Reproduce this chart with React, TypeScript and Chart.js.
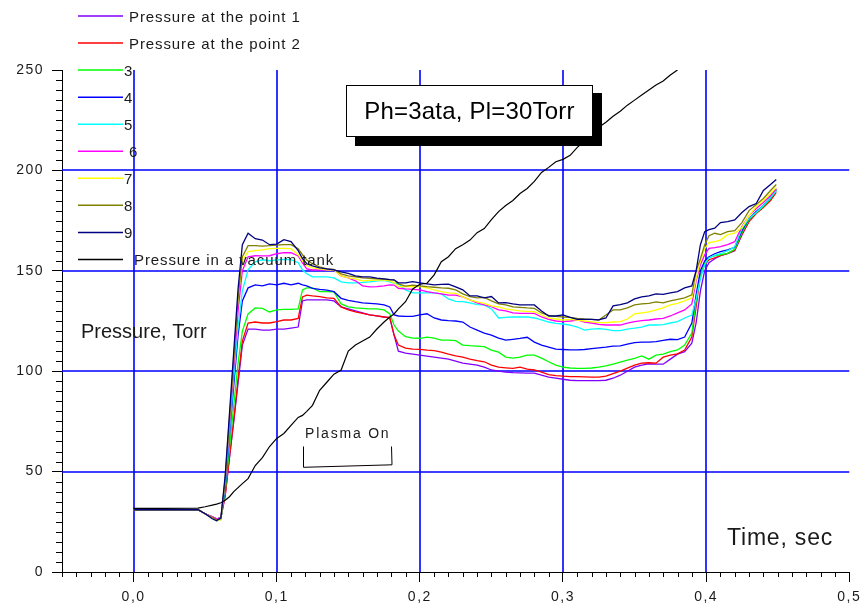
import React, { useEffect, useRef } from 'react';
import { Chart, registerables } from 'chart.js';

Chart.register(...registerables);

const FONT = '"Liberation Sans", Arial, Helvetica, sans-serif';

// time grid (s)
const TIME = [
  0, 0.02, 0.045, 0.05, 0.055, 0.058, 0.061,
  0.064, 0.067, 0.07, 0.073, 0.076, 0.08,
  0.085, 0.09, 0.095, 0.1, 0.105, 0.11, 0.115,
  0.118, 0.121, 0.125, 0.13, 0.135, 0.14, 0.145, 0.15, 0.155, 0.16, 0.165, 0.17, 0.175,
  0.179, 0.182, 0.185, 0.19, 0.195, 0.2,
  0.205, 0.21, 0.215, 0.22, 0.225, 0.23, 0.235, 0.24, 0.245, 0.25,
  0.255, 0.26, 0.265, 0.27, 0.275, 0.28, 0.285, 0.29, 0.295, 0.3,
  0.305, 0.31, 0.315, 0.32, 0.325, 0.33, 0.335, 0.34, 0.345, 0.35,
  0.355, 0.36, 0.365, 0.37, 0.375, 0.38,
  0.385, 0.39, 0.393, 0.396, 0.399, 0.402, 0.406, 0.41,
  0.415, 0.42, 0.425, 0.43, 0.435, 0.44, 0.445, 0.449,
];

const P1 = [
  31, 31, 31, 29, 27.5, 26.5, 27,
  38, 57, 75, 94, 113, 121,
  121, 120.5, 120.5, 121, 121, 121.5, 122,
  135, 135.5, 135.5, 135.5, 135.5, 135, 132, 131, 130, 129, 128, 127.5, 127,
  126.5, 118, 110, 109, 108.5, 108,
  107.5, 107, 106.5, 106, 105, 104, 103.5, 103, 102, 100.6,
  100, 99.5, 99.3, 99.2, 99, 99, 98, 97, 96.5, 96,
  95.5, 95.3, 95.3, 95.3, 95.3, 95.5, 96.5, 98, 100, 102,
  103, 103.6, 103.5, 103.5, 106, 108.5,
  109.7, 114, 124, 140, 150, 154, 156, 157.5,
  158.5, 160, 168, 175, 179, 182, 186, 190,
];
const P2 = [
  31, 31, 31, 29, 27.5, 26.5, 27,
  38, 57, 76, 96, 115, 124,
  124.5, 124, 124, 124.7, 125.5, 125.5, 126.3,
  137, 137.9, 137.5, 137.1, 136.5, 136.3, 132, 130.5, 129.5, 128.8, 128, 127.5, 127,
  126.8, 118, 113, 111.5, 111, 110.9,
  110.5, 110.2, 109.5, 108.5, 107.6, 107, 106, 105.3, 104.7, 103,
  102, 101.7, 101.4, 102, 101, 100.6, 99.5, 98.3, 97.8, 97.5,
  97.3, 97.3, 97.2, 97, 97, 97.5, 98.8, 100, 101.5, 103,
  104, 104.2, 104, 107, 108, 108.6,
  110.5, 117, 132, 148, 153, 155.5, 156.5, 157.5,
  158.7, 160.4, 168, 174.5, 178.5, 181.5, 185, 189,
];
const P3 = [
  31, 31, 31, 29, 27.5, 26.5, 27,
  40, 62, 83, 104, 120, 128.5,
  131.5, 131.3, 129.5, 130.5, 130.8, 130.8, 131,
  140.5, 141.5, 141.5, 139.6, 139.6, 139.5, 133.5, 132, 131.5, 131.3, 131, 131, 130.5,
  128.5, 123, 120, 117.2, 116.5, 116.4,
  117, 116.5, 115.5, 115.5, 115.2, 113, 112.7, 112.5, 112.2, 110.5,
  109.5, 107, 106.5, 107, 108, 108, 106.5, 104.7, 103, 102,
  101.6, 101.4, 101.4, 101.6, 102, 102.6, 103.5, 104.5, 105.5, 106.4,
  107.6, 106, 108, 108.5, 109.7, 110.6,
  113, 119, 135, 148, 154, 156.5, 157.5, 158,
  158.7, 160.7, 169, 175.5, 179, 182, 186, 190,
];
const P4 = [
  31, 31, 31, 29, 27, 26, 26.5,
  42, 68, 93, 118, 135, 141.5,
  143, 142.5, 143.5, 143, 143.8, 143, 143.8,
  143, 142.5, 141.3, 140.8, 140.4, 139.6, 136.3, 135.3, 134.6, 134, 133.8, 133.5, 133,
  132, 128, 127.5, 127.3, 127.3, 128,
  128.6, 126.5, 125.5, 125.2, 125, 124.5, 122, 120.5, 119, 118,
  116.5, 115.5, 115.9, 116.3, 116.9, 114.5, 113, 112, 111, 110.8,
  110.6, 110.6, 110.8, 111.2, 111.6, 112, 112.5, 112.6, 113.5, 114.2,
  114.5, 114.5, 114.7, 115.3, 115.9, 115.7,
  117, 124, 138, 150, 155, 157, 158.5, 159.5,
  160.4, 161.7, 170, 176, 179.5, 182.5, 186.5, 190.5,
];
const P5 = [
  31, 31, 31, 29, 27, 25.5, 26,
  44, 70, 97, 122, 140, 150.5,
  154.5, 155.5, 155, 155.4, 155.7, 155.5, 154,
  150.5, 148.5, 147, 147, 147, 146.5, 144.5, 144, 144, 144.2, 144.5, 145, 145.2,
  144.5, 143.8, 143.5, 140.5, 139, 139,
  139, 139, 138.5, 136, 134.8, 134.6, 134, 133.2, 133, 131,
  126.5, 126.8, 127, 127, 127.1, 126.5, 125.5, 124.5, 123.8, 123.5,
  123, 122, 120.5, 121, 121.2, 120.8, 120.2, 120.2, 121, 121.4,
  122, 123, 123, 123.2, 124, 124.7,
  126.5, 128, 136, 146, 153, 156.5, 157.7, 158.5,
  160, 162, 171, 176, 179, 182.5, 186.5, 190,
];
const P6 = [
  31, 31, 31, 29, 27.5, 26.5, 27,
  45, 73, 102, 130, 150, 157,
  157.5, 157.4, 157.5, 158.5, 159, 159, 157.4,
  154, 151, 150.4, 150.4, 150.4, 150.4, 147.5, 146.5, 145, 142.5, 142, 142.1, 142.5,
  143, 142.9, 141.3, 141, 140.8, 140.5,
  139.6, 139, 138.5, 137.9, 137.9, 137, 135.5, 134, 133, 132.1,
  130.5, 130, 129, 128.8, 128.8, 128.8, 127, 125.8, 125, 124.7,
  125, 125.5, 124.5, 124, 123.3, 123, 123, 123, 124, 124.7,
  125.2, 125.5, 126, 126.3, 127.5, 129,
  130.5, 133.5, 145, 153, 158, 161.2, 161.5, 162,
  163, 164.5, 172, 177.5, 181, 184, 187.5, 191,
];
const P7 = [
  31, 31, 31, 29, 27, 25.5, 26,
  47, 77, 107, 137, 155, 159.5,
  160, 160.4, 161, 161.2, 161.2, 161, 158,
  155, 152.5, 151.5, 151, 150.5, 150.4, 147.5, 146.5, 146, 145, 145.2, 145.4, 145.4,
  145, 144, 142.1, 142.1, 142.1, 142.1,
  141.5, 140.5, 139.6, 139, 138.8, 137, 135.5, 134.5, 133.8, 132.5,
  132, 131, 130.5, 130, 129.8, 129.6, 128, 126.5, 126, 125.5,
  125.8, 125.5, 125, 124.6, 124.2, 124.2, 124.5, 124.7, 126, 128.5,
  129, 129.5, 130.5, 131.5, 133, 133.8,
  135, 136.5, 146, 155, 161, 164, 164.5, 165.3,
  168, 168.7, 171.5, 177.5, 182, 185, 188.5, 191.5,
];
const P8 = [
  31, 31, 31, 29, 27, 26, 26.5,
  46, 76, 106, 136, 157, 162.5,
  162.5, 162.3, 162.5, 162.8, 163, 163, 161,
  158, 155.4, 153.5, 152, 151, 150.7, 148.5, 147.5, 147, 146.5, 146.2, 146, 145.8,
  145.6, 145.4, 143.5, 142.4, 142.9, 142.5,
  142.1, 141.8, 141.5, 141.3, 140.5, 138.5, 137.1, 136.5, 136.8, 135,
  133.5, 133, 132, 131.8, 131.5, 131.3, 129, 127.8, 127.3, 127,
  126.8, 126.3, 126, 125.8, 125.5, 128, 130.5, 130.5, 131.5, 133,
  133.5, 133.8, 134.5, 134, 135, 135.8,
  136.5, 138, 150, 156, 163, 167.5, 168.7, 168,
  169.5, 170, 174, 180, 183, 186, 190, 193,
];
const P9 = [
  31, 31, 31, 29, 26.5, 25.5, 27,
  48, 79, 110, 141, 163, 168.7,
  166, 165.3, 163, 163.3, 165.5, 164.5, 160,
  156, 153.5, 152.5, 151.5, 151, 150.5, 149.5, 148.7, 147.5, 147, 147, 146.4, 146,
  145.6, 145.5, 144, 144, 144.6, 144,
  143.5, 143, 143.2, 143.4, 142, 140.5, 137.5, 137.5, 136.5, 137.2,
  134, 134.1, 133.5, 133, 133, 133, 130, 127.5, 127.5, 128,
  126.8, 125.8, 125.8, 125.8, 125.6, 126.5, 132.5, 133.2, 134, 136,
  137, 137.5, 138.5, 138.3, 139, 139.6,
  141.5, 142.5, 150, 163, 169.5, 170.5, 171.2, 174,
  174.5, 175.3, 179, 182, 183.5, 190, 193, 195.5,
];
// vacuum tank, recorded until it leaves the plot at 250 Torr
const TANK = [
  31.7, 31.7, 31.8, 32.5, 33.3, 33.8, 34.5,
  35.7, 37.5, 40, 42, 44, 46.5,
  53, 57, 62.5, 66.5, 69, 73, 77,
  78, 80, 83, 90.5, 94.5, 98.5, 100.6, 110, 113, 115, 117, 121, 124.5,
  127, 128.5, 131, 134.6, 141, 143.3,
  143.8, 148, 154.5, 157, 161, 163, 165.3, 169, 171, 175.5,
  179.5, 182.5, 185, 188.5, 191, 194.5, 199, 201.5, 204.3, 205.5,
  207.5, 211.5, 214.5, 218, 221.5, 224, 227, 229.5, 232.5, 235,
  237.5, 240, 242.5, 244.5, 247.5, 250,
];

const SERIES_LABELS = [
  'Pressure at the point 1', 'Pressure at the point 2', '3', '4', '5', '6', '7', '8', '9',
  'Pressure in a vacuum tank',
];
const SERIES_COLORS = [
  '#8000ff', '#ff0000', '#00ff00', '#0000ff', '#00ffff', '#ff00ff', '#ffff00', '#808000', '#000080',
  '#000000',
];
const X_TICKS = [0, 0.1, 0.2, 0.3, 0.4, 0.5];
const X_TICK_LABELS = ['0,0', '0,1', '0,2', '0,3', '0,4', '0,5'];
const X_GRID = [0, 0.1, 0.2, 0.3, 0.4];
const Y_TICKS = [0, 50, 100, 150, 200, 250];
const Y_TICK_LABELS = ['0', '50', '100', '150', '200', '250'];
const Y_GRID = [50, 100, 150, 200];
const TITLE = 'Ph=3ata, Pl=30Torr';
const Y_TITLE = 'Pressure, Torr';
const X_TITLE = 'Time, sec';
const NOTE = 'Plasma On';

// layout constants (pixels)
const LEGEND_TEXT_X = [129, 129, 124, 124, 124, 129, 124, 124, 124, 134];
const TEXT_COLOR = '#1a1a1a';
const GRID_BLUE = '#0000ff';

const overlay = {
  id: 'overlay',
  beforeDraw(chart: any) {
    (chart.ctx as any).letterSpacing = '1.5px';
  },
  beforeDatasetsDraw(chart: any) {
    const ctx = chart.ctx as CanvasRenderingContext2D;
    const xs = chart.scales.x;
    const ys = chart.scales.y;
    const a = chart.chartArea;
    ctx.save();
    ctx.strokeStyle = GRID_BLUE;
    ctx.lineWidth = 1.6;
    ctx.beginPath();
    X_GRID.forEach((v) => {
      const px = Math.round(xs.getPixelForValue(v));
      ctx.moveTo(px, a.top);
      ctx.lineTo(px, a.bottom);
    });
    Y_GRID.forEach((v) => {
      const py = Math.round(ys.getPixelForValue(v));
      ctx.moveTo(a.left, py);
      ctx.lineTo(a.right, py);
    });
    ctx.stroke();
    ctx.restore();
  },
  afterDatasetsDraw(chart: any) {
    const ctx = chart.ctx as CanvasRenderingContext2D & { letterSpacing?: string };
    const xs = chart.scales.x;
    const ys = chart.scales.y;
    const area = chart.chartArea;
    ctx.save();

    // minor ticks
    ctx.strokeStyle = '#000';
    ctx.lineWidth = 1;
    ctx.beginPath();
    for (let k = -5; k <= 50; k++) {
      if (k % 10 === 0) continue;
      const px = Math.round(xs.getPixelForValue(k / 100)) + 0.5;
      ctx.moveTo(px, area.bottom);
      ctx.lineTo(px, area.bottom + 5);
    }
    for (let k = 0; k <= 250; k += 5) {
      if (k % 50 === 0) continue;
      const py = Math.round(ys.getPixelForValue(k)) + 0.5;
      ctx.moveTo(area.left - 6, py);
      ctx.lineTo(area.left, py);
    }
    ctx.stroke();

    // legend
    ctx.textAlign = 'left';
    ctx.textBaseline = 'alphabetic';
    chart.data.datasets.forEach((ds: any, i: number) => {
      const y = 16 + i * 27.05;
      ctx.strokeStyle = ds.borderColor;
      ctx.lineWidth = 1.5;
      ctx.beginPath();
      ctx.moveTo(78, y);
      ctx.lineTo(123, y);
      ctx.stroke();
      ctx.fillStyle = TEXT_COLOR;
      ctx.font = `15px ${FONT}`;
      ctx.letterSpacing = '0.9px';
      ctx.fillText(ds.label, LEGEND_TEXT_X[i], y + 5.5);
    });

    // axis titles and note
    ctx.fillStyle = TEXT_COLOR;
    ctx.font = `20px ${FONT}`;
    ctx.letterSpacing = '0px';
    ctx.fillText(Y_TITLE, 81, 338);
    ctx.font = `23px ${FONT}`;
    ctx.letterSpacing = '0.8px';
    ctx.fillText(X_TITLE, 727, 545);
    ctx.font = `14px ${FONT}`;
    ctx.letterSpacing = '1.8px';
    ctx.fillText(NOTE, 305, 437.5);

    // bracket
    ctx.strokeStyle = '#000';
    ctx.lineWidth = 1;
    ctx.beginPath();
    ctx.moveTo(303.5, 446.5);
    ctx.lineTo(303.5, 467.3);
    ctx.lineTo(392, 464.8);
    ctx.moveTo(392, 464.8);
    ctx.lineTo(391.5, 446.5);
    ctx.stroke();

    // title box with shadow
    ctx.fillStyle = '#000';
    ctx.fillRect(355, 93, 247, 53);
    ctx.fillStyle = '#fff';
    ctx.fillRect(346.5, 85.5, 246, 51);
    ctx.strokeStyle = '#000';
    ctx.lineWidth = 1;
    ctx.strokeRect(346.5, 85.5, 246, 51);
    ctx.fillStyle = '#000';
    ctx.font = `24px ${FONT}`;
    ctx.letterSpacing = '0.2px';
    ctx.textAlign = 'center';
    ctx.fillText(TITLE, 469.5, 119);

    ctx.restore();
  },
};

export default function App() {
  const ref = useRef<HTMLCanvasElement>(null);

  useEffect(() => {
    const canvas = ref.current;
    if (!canvas) return;
    const pressureSeries = [P1, P2, P3, P4, P5, P6, P7, P8, P9];
    const datasets: any[] = pressureSeries.map((vals, i) => ({
      label: SERIES_LABELS[i],
      data: vals.map((v, j) => ({ x: TIME[j], y: v })),
      borderColor: SERIES_COLORS[i],
      backgroundColor: SERIES_COLORS[i],
      borderWidth: 1.3,
      pointRadius: 0,
      tension: 0,
      fill: false,
      order: 20 - i,
    }));
    datasets.push({
      label: SERIES_LABELS[9],
      data: TANK.map((v, j) => ({ x: TIME[j], y: v })),
      borderColor: SERIES_COLORS[9],
      backgroundColor: SERIES_COLORS[9],
      borderWidth: 1.2,
      pointRadius: 0,
      tension: 0,
      fill: false,
      order: 1,
    });

    const chart = new Chart(canvas, {
      type: 'line',
      data: { datasets },
      options: {
        responsive: false,
        maintainAspectRatio: false,
        devicePixelRatio: 1,
        animation: false,
        events: [],
        layout: { padding: { top: 70, right: 15, left: 0, bottom: 0 } },
        plugins: {
          legend: { display: false },
          tooltip: { enabled: false },
          title: { display: false },
        },
        scales: {
          x: {
            type: 'linear',
            min: -0.05,
            max: 0.5,
            afterBuildTicks: (s: any) => {
              s.ticks = X_TICKS.map((v) => ({ value: v }));
            },
            afterFit: (s: any) => {
              s.height = 38;
            },
            border: { color: '#000', width: 1 },
            grid: {
              drawOnChartArea: false,
              color: '#000',
              tickColor: '#000',
              tickLength: 10,
              lineWidth: 1,
            },
            ticks: {
              autoSkip: false,
              maxRotation: 0,
              padding: 7,
              color: TEXT_COLOR,
              font: { family: FONT, size: 14 },
              callback: (_v: any, i: number) => X_TICK_LABELS[i],
            },
          },
          y: {
            type: 'linear',
            min: 0,
            max: 250,
            afterBuildTicks: (s: any) => {
              s.ticks = Y_TICKS.map((v) => ({ value: v }));
            },
            afterFit: (s: any) => {
              s.width = 62;
            },
            border: { color: '#000', width: 1 },
            grid: {
              drawOnChartArea: false,
              color: '#000',
              tickColor: '#000',
              tickLength: 10,
              lineWidth: 1,
            },
            ticks: {
              autoSkip: false,
              padding: 8,
              color: TEXT_COLOR,
              font: { family: FONT, size: 14 },
              callback: (_v: any, i: number) => Y_TICK_LABELS[i],
            },
          },
        },
      },
      plugins: [overlay],
    });

    return () => chart.destroy();
  }, []);

  return (
    <div style={{ position: 'absolute', left: 0, top: 0, width: 866, height: 610, background: '#fff' }}>
      <canvas ref={ref} width={866} height={610} style={{ display: 'block', width: 866, height: 610 }} />
    </div>
  );
}
